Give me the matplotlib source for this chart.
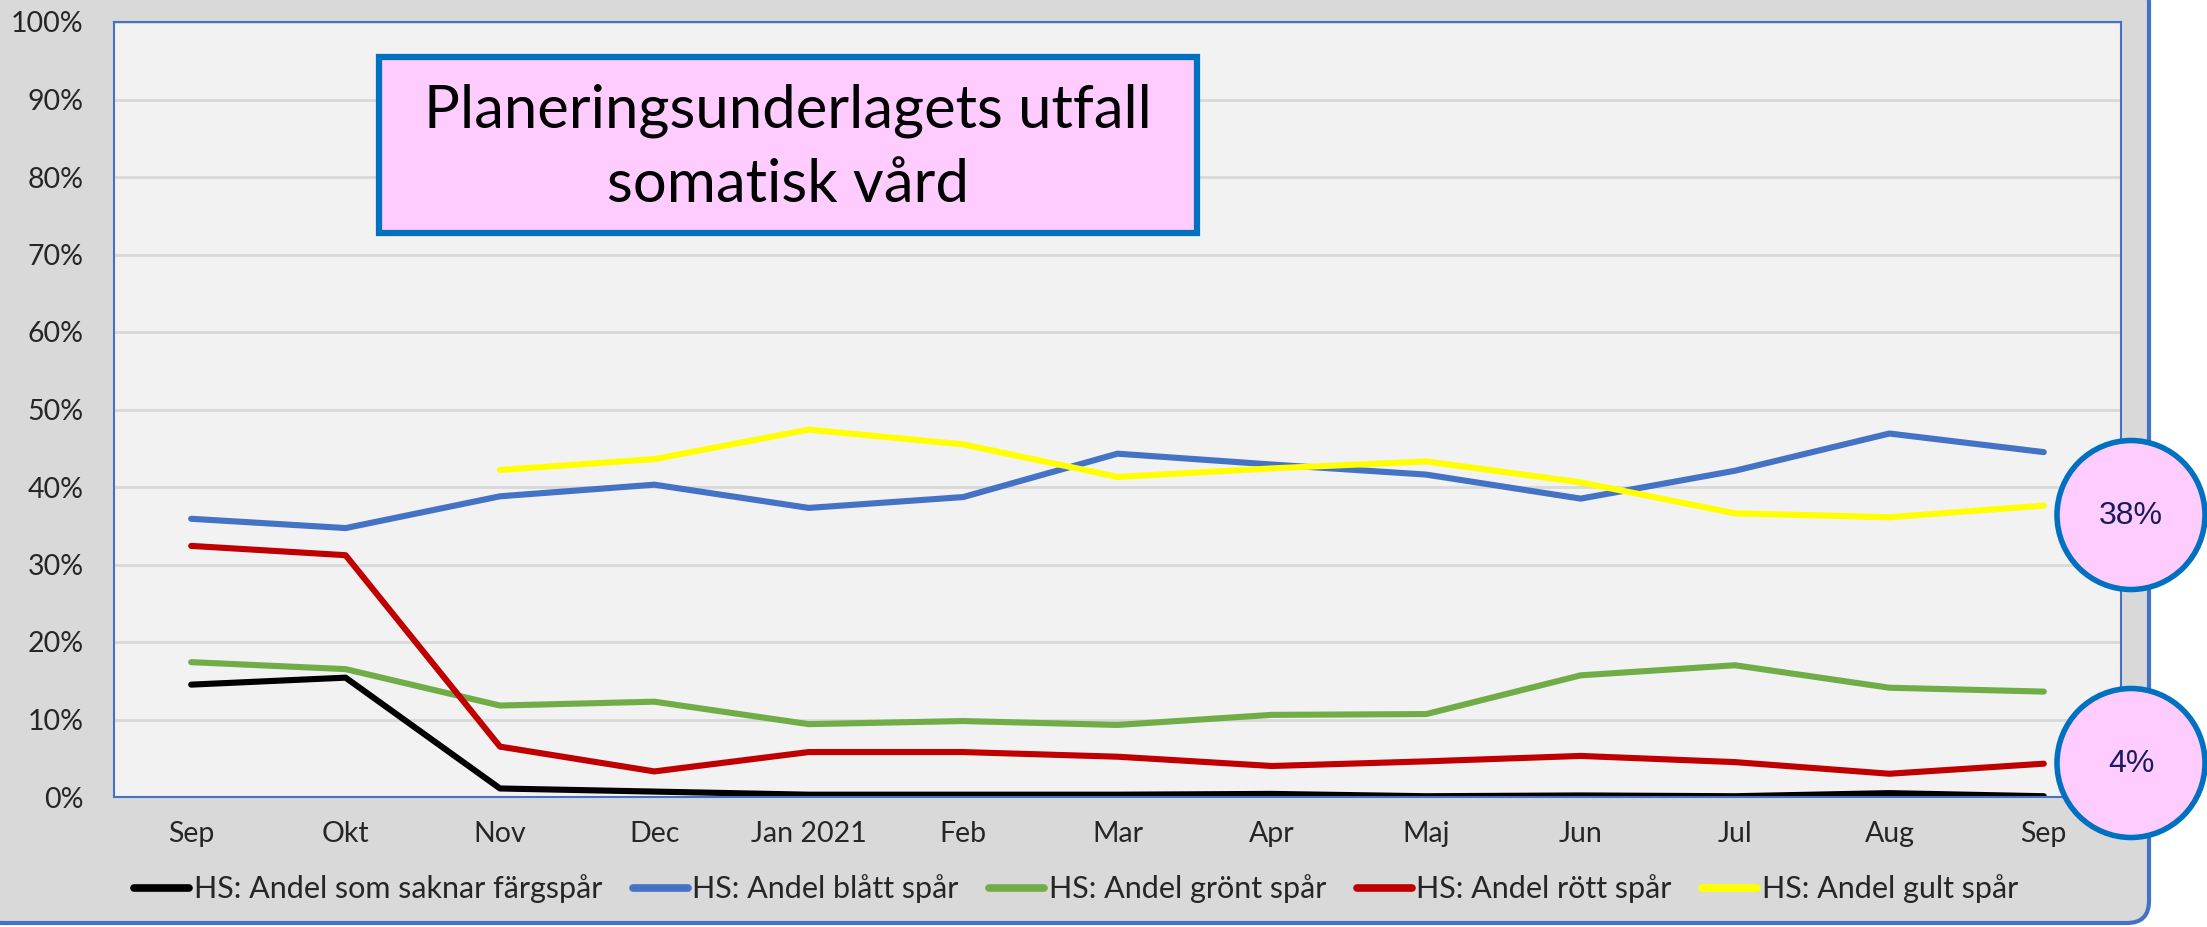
import numpy as np
import matplotlib
matplotlib.use("Agg")
import matplotlib.pyplot as plt
from matplotlib.patches import FancyBboxPatch, Ellipse, Rectangle

# ------- Data ------- #

months = ["Sep", "Okt", "Nov", "Dec", "Jan 2021", "Feb", "Mar", "Apr",
          "Maj", "Jun", "Jul", "Aug", "Sep"]

saknar = [14.5, 15.4, 1.1, 0.7, 0.3, 0.3, 0.3, 0.4, 0.1, 0.2, 0.1, 0.5, 0.1]
blatt = [35.9, 34.7, 38.8, 40.3, 37.3, 38.7, 44.3, 42.9, 41.6, 38.5, 42.1, 46.9, 44.5]
gront = [17.4, 16.5, 11.8, 12.3, 9.4, 9.8, 9.3, 10.6, 10.7, 15.7, 17.0, 14.1, 13.6]
rott = [32.4, 31.2, 6.5, 3.3, 5.8, 5.8, 5.2, 4.0, 4.6, 5.3, 4.5, 3.0, 4.3]
gult = [np.nan, np.nan, 42.2, 43.6, 47.4, 45.5, 41.3, 42.4, 43.3, 40.6, 36.6, 36.1, 37.6]

series_labels = ["HS: Andel som saknar färgspår", "HS: Andel blått spår",
                 "HS: Andel grönt spår", "HS: Andel rött spår", "HS: Andel gult spår"]
series_colors = ["#000000", "#4472c4", "#70ad47", "#c00000", "#ffff00"]

callouts = ["38%", "4%"]

title_text = "Planeringsunderlagets utfall\nsomatisk vård"

# ------- Figure ------- #

W, H = 2207, 927
fig = plt.figure(figsize=(W / 100, H / 100), dpi=100)
fig.patch.set_facecolor("white")

# background panel (grey with rounded blue border), in pixel coords
bg = fig.add_axes([0, 0, 1, 1], zorder=0)
bg.set_xlim(0, W)
bg.set_ylim(H, 0)
bg.axis("off")
bg.add_patch(FancyBboxPatch((-20, -20), 2169, 943,
                            boxstyle="round,pad=0,rounding_size=22",
                            facecolor="#d9d9d9", edgecolor="#4472c4", lw=3))

# plot area: x 114..2121, y 22..797
ax = fig.add_axes([114 / W, 1 - 797 / H, (2121 - 114) / W, (797 - 22) / H], zorder=1)
ax.set_facecolor("#f2f2f2")

x = np.arange(len(months))
for vals, lab, col in zip([saknar, blatt, gront, rott, gult], series_labels, series_colors):
    ax.plot(x, np.array(vals) / 100, color=col, lw=4.4, label=lab,
            solid_capstyle="round", solid_joinstyle="round")

ax.set_xlim(-0.5, len(months) - 0.5)
ax.set_ylim(0, 1)
ax.set_yticks(np.arange(0, 1.01, 0.1))
ax.set_yticklabels([f"{int(round(v * 100))}%" for v in np.arange(0, 1.01, 0.1)])
ax.set_xticks(x)
ax.set_xticklabels(months)
ax.tick_params(length=0, labelsize=20.5, colors="#262626")
ax.tick_params(axis="y", pad=22)
ax.tick_params(axis="x", pad=17)
for lab in ax.get_xticklabels() + ax.get_yticklabels():
    lab.set_family(["Lato", "DejaVu Sans"])
ax.grid(axis="y", color="#d9d9d9", lw=2)
ax.set_axisbelow(True)
for sp in ax.spines.values():
    sp.set_color("#4472c4")
    sp.set_linewidth(1.5)

leg = fig.legend(loc="center", bbox_to_anchor=(1076 / W, 1 - 889 / H), ncol=5,
                 frameon=False, handlelength=1.8, handletextpad=0.15,
                 columnspacing=1.0, prop={"family": ["Lato", "DejaVu Sans"], "size": 22})
for line in leg.get_lines():
    line.set_linewidth(5.5)
for t in leg.get_texts():
    t.set_color("#262626")

# overlay for title box and callout circles
ov = fig.add_axes([0, 0, 1, 1], zorder=5)
ov.set_xlim(0, W)
ov.set_ylim(H, 0)
ov.axis("off")
ov.patch.set_alpha(0)

ov.add_patch(Rectangle((379, 57), 818, 176, facecolor="#ffccff",
                       edgecolor="#0070c0", lw=4.5))
ov.text(788, 148, title_text, ha="center", va="center", fontsize=43,
        family=["Lato", "DejaVu Sans"], linespacing=1.45)

for (cy, txt) in zip([515, 763], callouts):
    ov.add_patch(Ellipse((2131, cy), 148, 149, facecolor="#ffccff",
                         edgecolor="#0070c0", lw=4, clip_on=False))
    ov.text(2131, cy + 1, txt, ha="center", va="center", fontsize=23,
            color="#1a1a5c", family=["Liberation Sans", "DejaVu Sans"])

fig.savefig("out.png", dpi=100, facecolor=fig.get_facecolor())
